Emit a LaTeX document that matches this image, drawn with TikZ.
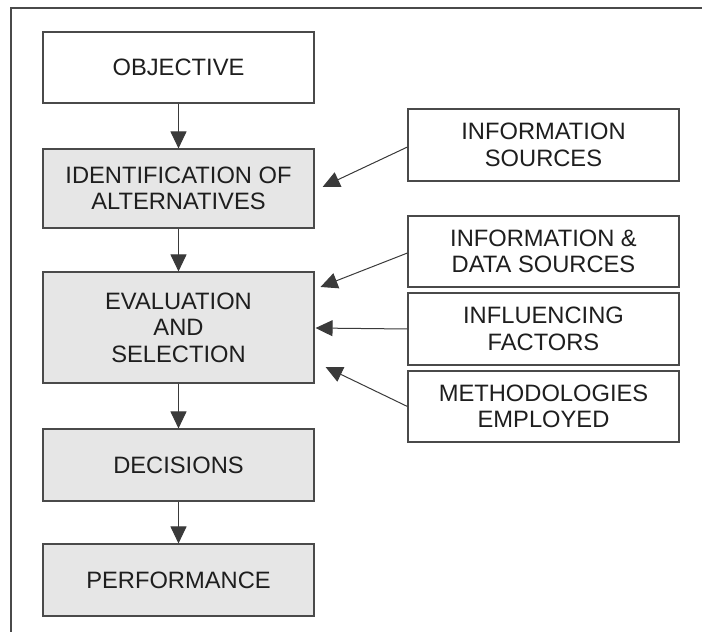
\documentclass[tikz,border=0pt]{standalone}
\usepackage{fontspec}
\setmainfont{Liberation Sans}
\usetikzlibrary{arrows.meta}
\definecolor{boxline}{HTML}{4A4A4A}
\definecolor{boxfill}{HTML}{E6E6E6}
\definecolor{ink}{HTML}{1E1E1E}
\definecolor{wire}{HTML}{3A3A3A}
\tikzset{
  stage/.style={draw=boxline, line width=1.1bp, minimum width=271bp, inner sep=0pt,
    align=center, text=ink, font=\fontsize{23.8}{26.6}\selectfont},
  shaded/.style={stage, fill=boxfill},
  feed/.style={stage, fill=white},
  flow/.style={draw=wire, line width=1bp, -{Triangle[length=17bp,width=16bp]}},
  frameline/.style={draw=boxline, line width=1.3bp}
}
\begin{document}
\begin{tikzpicture}[x=1bp, y=-1bp]
  \useasboundingbox (0,0) rectangle (702,632);
  % open frame: top and left edges
  \coordinate (fbl) at (11,632);
  \coordinate (ftl) at (11,8);
  \coordinate (ftr) at (702,8);
  \draw[frameline] (fbl) -- (ftl) -- (ftr);

  % main sequence
  \node[stage, minimum height=71bp] (obj) at (178.5,67.5) {OBJECTIVE};
  \node[shaded, minimum height=79bp] (ident) at (178.5,188.5) {IDENTIFICATION OF\\ALTERNATIVES};
  \node[shaded, minimum height=111bp] (eval) at (178.5,327.5) {EVALUATION\\AND\\SELECTION};
  \node[shaded, minimum height=72bp] (dec) at (178.5,465) {DECISIONS};
  \node[shaded, minimum height=72bp] (perf) at (178.5,580) {PERFORMANCE};

  % inputs on the right
  \node[feed, minimum height=72bp] (isrc) at (543.5,145) {INFORMATION\\SOURCES};
  \node[feed, minimum height=71bp] (idata) at (543.5,251.5) {INFORMATION \&\\DATA SOURCES};
  \node[feed, minimum height=72bp] (infl) at (543.5,329) {INFLUENCING\\FACTORS};
  \node[feed, minimum height=71bp] (meth) at (543.5,406.5) {METHODOLOGIES\\EMPLOYED};

  % vertical flow
  \draw[flow] (obj) -- (ident);
  \draw[flow] (ident) -- (eval);
  \draw[flow] (eval) -- (dec);
  \draw[flow] (dec) -- (perf);

  % side inputs
  \draw[flow, shorten >=9bp] ([yshift=-2bp]isrc.west) -- ([yshift=-2.2bp]ident.east);
  \draw[flow, shorten >=6.4bp] ([yshift=-1.5bp]idata.west) -- ([yshift=38.2bp]eval.east);
  \draw[flow, shorten >=1bp] (infl.west) -- ([yshift=-0.5bp]eval.east);
  \draw[flow, shorten >=12.2bp] (meth.west) -- ([yshift=-34.2bp]eval.east);
\end{tikzpicture}
\end{document}
